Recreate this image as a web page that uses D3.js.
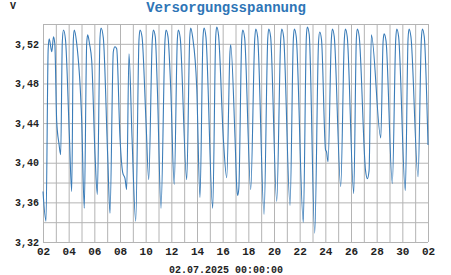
<!DOCTYPE html>
<html>
<head>
<meta charset="utf-8">
<script src="https://cdn.jsdelivr.net/npm/d3@7"></script>
<style>
  body { margin: 0; background: #fff; }
  text { font-family: "Liberation Mono", "DejaVu Sans Mono", monospace; font-weight: bold; }
</style>
</head>
<body>
<div id="chart"></div>
<script>
// hours since 02.06.2025 00:00 and supply voltage read at that time
const hours = [
  0, 5.6, 9.7, 11.6, 16.5, 19.6, 22.1, 25.6, 29.9, 33.1,
  36.1, 38.3, 42.1, 49.2, 53.7, 56.7, 58.5, 62.7, 72.4, 77.2,
  81.7, 83.6, 87.0, 91.1, 97.3, 101.6, 106.6, 108.5, 112.8, 120.9,
  125.3, 131.5, 134.6, 137.8, 144.0, 149.1, 153.4, 156.5, 160.8, 166.5,
  173.4, 179.5, 181.4, 185.2, 192.6, 197.7, 204.4, 206.3, 210.0, 213.8,
  220.7, 228.2, 230.0, 233.8, 238.8, 245.4, 251.2, 253.0, 256.6, 268.8,
  274.4, 276.2, 279.8, 287.5, 293.6, 299.2, 301.1, 304.7, 317.4, 323.0,
  324.9, 328.4, 337.2, 343.6, 349.7, 351.0, 359.1, 362.5, 364.1, 366.2,
  371.6, 373.5, 377.1, 388.5, 396.0, 397.8, 401.4, 413.4, 420.3, 422.1,
  425.7, 437.1, 444.6, 446.4, 450.0, 462.0, 468.2, 470.0, 473.6, 486.8,
  492.5, 494.3, 497.9, 508.2, 515.3, 517.5, 520.9, 528.4, 530.3, 533.1,
  539.3, 541.1, 544.7, 556.8, 563.6, 565.4, 569.0, 581.1, 586.0, 587.8,
  591.4, 603.2, 606.6, 609.8, 614.1, 631.7, 636.0, 637.9, 641.5, 653.3,
  659.7, 661.5, 665.1, 677.6, 682.7, 684.6, 688.1, 701.4, 707.6, 709.4,
  713.0, 720
]
const volts = [
  3.371, 3.341, 3.515, 3.525, 3.512, 3.527, 3.520, 3.442, 3.419, 3.408,
  3.522, 3.534, 3.524, 3.429, 3.371, 3.524, 3.534, 3.522, 3.442, 3.354,
  3.520, 3.529, 3.520, 3.503, 3.408, 3.368, 3.526, 3.536, 3.526, 3.408,
  3.349, 3.512, 3.517, 3.515, 3.425, 3.390, 3.384, 3.373, 3.510, 3.425,
  3.341, 3.524, 3.534, 3.527, 3.442, 3.383, 3.524, 3.534, 3.527, 3.476,
  3.354, 3.524, 3.534, 3.527, 3.476, 3.378, 3.524, 3.534, 3.526, 3.383,
  3.526, 3.536, 3.527, 3.476, 3.365, 3.526, 3.536, 3.527, 3.354, 3.527,
  3.537, 3.528, 3.425, 3.385, 3.512, 3.519, 3.425, 3.374, 3.367, 3.374,
  3.524, 3.534, 3.526, 3.373, 3.525, 3.535, 3.527, 3.348, 3.525, 3.535,
  3.527, 3.361, 3.525, 3.535, 3.527, 3.357, 3.525, 3.535, 3.527, 3.340,
  3.527, 3.537, 3.529, 3.329, 3.522, 3.532, 3.524, 3.413, 3.411, 3.401,
  3.525, 3.535, 3.527, 3.376, 3.525, 3.535, 3.527, 3.369, 3.525, 3.535,
  3.527, 3.392, 3.384, 3.392, 3.529, 3.425, 3.522, 3.530, 3.523, 3.379,
  3.525, 3.535, 3.527, 3.372, 3.525, 3.535, 3.527, 3.386, 3.525, 3.535,
  3.527, 3.418
]
const yTicks = [3.32, 3.36, 3.40, 3.44, 3.48, 3.52]
const title = 'Versorgungsspannung'
const unit = 'V'
const timeLabel = '02.07.2025 00:00:00'

const w = 451
const h = 275
const plotLeft = 43, plotRight = 428, plotTop = 24, plotBottom = 242

const start = new Date(2025, 5, 2)
const end = new Date(2025, 6, 2)
const data = hours.map((hr, i) => [new Date(start.getTime() + hr * 3600000), volts[i]])

const xScale = d3.scaleTime().domain([start, end]).range([plotLeft, plotRight])
const yScale = d3.scaleLinear().domain([3.32, 3.54]).range([plotBottom, plotTop])

const svg = d3.select('#chart')
              .append('svg')
              .attr('width', w)
              .attr('height', h)
              .style('display', 'block')

// grid: one line per day, one per 0.02 V
svg.append('g')
   .attr('transform', 'translate(0,' + plotBottom + ')')
   .call(d3.axisBottom(xScale)
           .tickValues(d3.timeDay.range(start, d3.timeDay.offset(end, 1)))
           .tickSize(-(plotBottom - plotTop))
           .tickFormat(''))
   .call(g => g.select('.domain').remove())
   .call(g => g.selectAll('line').attr('stroke', '#b4b4b4'))

svg.append('g')
   .attr('transform', 'translate(' + plotLeft + ',0)')
   .call(d3.axisLeft(yScale)
           .tickValues(d3.range(0, 12).map(i => 3.32 + i * 0.02))
           .tickSize(-(plotRight - plotLeft))
           .tickFormat(''))
   .call(g => g.select('.domain').remove())
   .call(g => g.selectAll('line').attr('stroke', '#b4b4b4'))

svg.append('path')
   .datum(data)
   .attr('fill', 'none')
   .attr('stroke', '#3a7cb8')
   .attr('stroke-width', 1.1)
   .attr('d', d3.line()
                .x(d => xScale(d[0]))
                .y(d => yScale(d[1]))
                .curve(d3.curveMonotoneX))

const xAxis = d3.axisBottom(xScale)
                .tickValues(d3.timeDay.range(start, d3.timeDay.offset(end, 1), 2))
                .tickFormat(d3.timeFormat('%d'))
                .tickSize(0)
                .tickPadding(5)
const yAxis = d3.axisLeft(yScale)
                .tickValues(yTicks)
                .tickFormat(d => d.toFixed(2).replace('.', ','))
                .tickSize(0)
                .tickPadding(4)

svg.append('g')
   .attr('transform', 'translate(0,' + plotBottom + ')')
   .call(xAxis)
   .call(g => g.select('.domain').remove())
   .call(g => g.selectAll('text').attr('fill', '#222').style('font-size', '11px'))

svg.append('g')
   .attr('transform', 'translate(' + plotLeft + ',0)')
   .call(yAxis)
   .call(g => g.select('.domain').remove())
   .call(g => g.selectAll('text').attr('fill', '#222').style('font-size', '10px'))

svg.append('text')
   .attr('x', 226)
   .attr('y', 12)
   .attr('text-anchor', 'middle')
   .attr('fill', '#2e75b6')
   .style('font-size', '14px')
   .text(title)

svg.append('text')
   .attr('x', 10)
   .attr('y', 9)
   .attr('fill', '#222')
   .style('font-size', '10px')
   .text(unit)

svg.append('text')
   .attr('x', 226)
   .attr('y', 273)
   .attr('text-anchor', 'middle')
   .attr('fill', '#222')
   .style('font-size', '10px')
   .text(timeLabel)
</script>
</body>
</html>
